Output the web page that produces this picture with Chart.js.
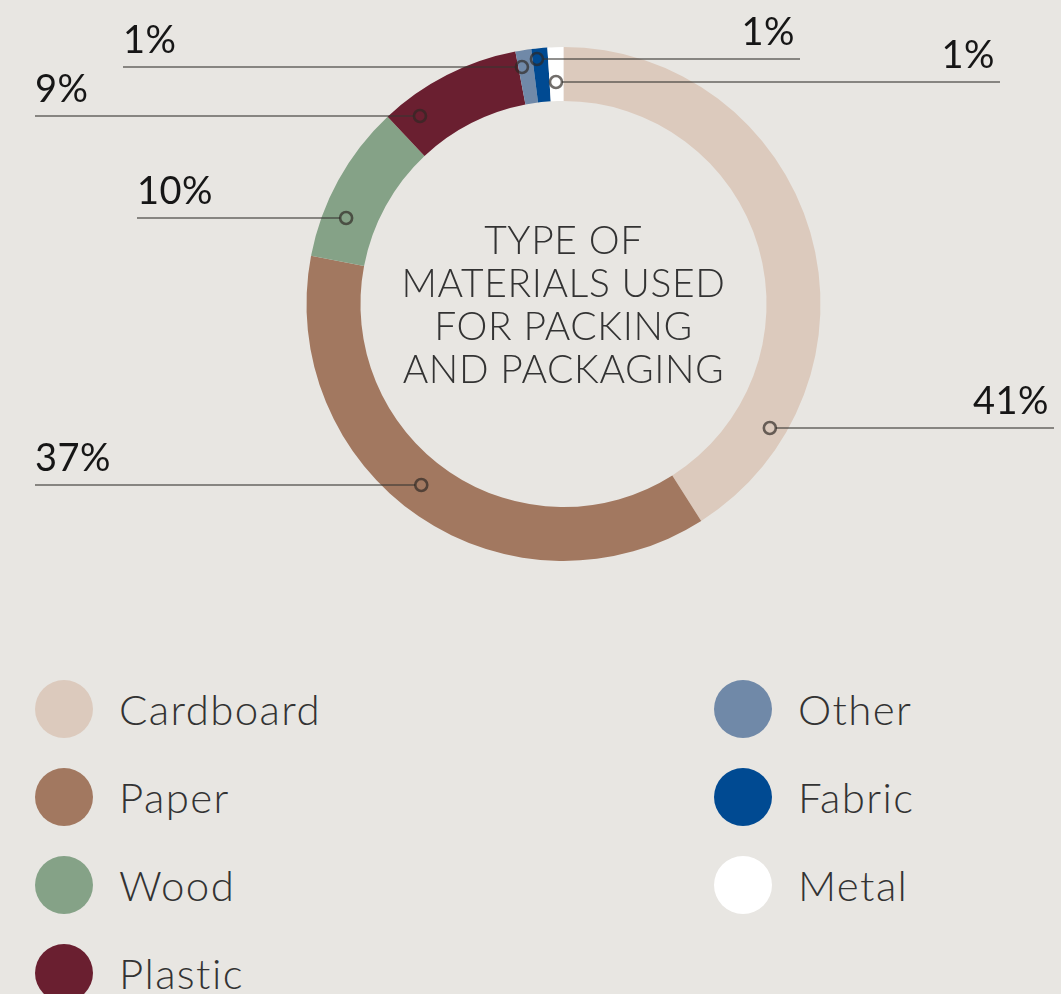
<!DOCTYPE html>
<html>
<head>
<meta charset="utf-8">
<title>Type of materials used for packing and packaging</title>
<script src="https://cdn.jsdelivr.net/npm/chart.js@4"></script>
<style>
  html, body { margin: 0; padding: 0; background: #e8e6e2; }
  .wrap { position: relative; width: 1061px; height: 994px; overflow: hidden; }
  .chart-box { position: absolute; left: 0; top: 0; width: 1061px; height: 620px; }
  #legend {
    position: absolute; left: 35px; top: 665px;
    display: grid;
    grid-template-columns: 679px auto;
    grid-template-rows: repeat(4, 88px);
    grid-auto-flow: column;
  }
  .item { display: flex; align-items: center; font: 300 42px Lato, sans-serif; letter-spacing: 1.4px; color: #333; }
  .dot { width: 58px; height: 58px; border-radius: 50%; margin-right: 26px; flex: none; }
</style>
</head>
<body>
<div class="wrap">
  <div class="chart-box"><canvas id="materialsChart" width="1061" height="620"></canvas></div>
  <div id="legend"></div>
</div>
<script>
(function() {
    'use strict';

    // Share of each packing material, percent
    const materials = ['Cardboard', 'Paper', 'Wood', 'Plastic', 'Other', 'Fabric', 'Metal'];
    const shares = [41, 37, 10, 9, 1, 1, 1];
    const sliceColors = ['#dccabd', '#a27860', '#85a287', '#6a1f30', '#7089a8', '#004a92', '#ffffff'];
    const titleLines = ['TYPE OF', 'MATERIALS USED', 'FOR PACKING', 'AND PACKAGING'];

    // Callout placement: how far along the slice, how deep into the ring, where the rule stops
    const calloutAlong = [0.82, 0.53, 0.30, 0.18, 0.24, 0.28, 0.46];
    const calloutDepth = [0.70, 0.50, 0.57, 0.62, 0.70, 0.80, 0.35];
    const calloutEndX = [1054, 35, 137, 35, 123, 800, 1000];

    // Leader rules, ring markers and percentage labels
    const callouts = {
        id: 'callouts',
        afterDatasetsDraw(chart) {
            const ctx = chart.ctx;
            const arcs = chart.getDatasetMeta(0).data;
            ctx.save();
            arcs.forEach((arc, i) => {
                const p = arc.getProps(['x', 'y', 'startAngle', 'endAngle', 'innerRadius', 'outerRadius']);
                const a = p.startAngle + calloutAlong[i] * (p.endAngle - p.startAngle);
                const r = p.innerRadius + calloutDepth[i] * (p.outerRadius - p.innerRadius);
                const mx = p.x + r * Math.cos(a);
                const my = Math.round(p.y + r * Math.sin(a));
                const endX = calloutEndX[i];
                const toRight = endX > mx;
                const ringR = 6;

                ctx.strokeStyle = 'rgba(55, 53, 50, 0.55)';
                ctx.lineWidth = 2;
                ctx.beginPath();
                ctx.moveTo(mx + (toRight ? ringR : -ringR), my);
                ctx.lineTo(endX, my);
                ctx.stroke();

                ctx.strokeStyle = 'rgba(45, 40, 36, 0.68)';
                ctx.lineWidth = 2.6;
                ctx.beginPath();
                ctx.arc(mx, my, ringR, 0, Math.PI * 2);
                ctx.stroke();

                ctx.fillStyle = '#161616';
                ctx.font = '400 38px Lato, sans-serif';
                ctx.letterSpacing = '0.5px';
                ctx.textBaseline = 'alphabetic';
                ctx.textAlign = toRight ? 'right' : 'left';
                ctx.fillText(shares[i] + '%', toRight ? endX - 5 : endX, my - 14);
            });

            // Title in the hole
            const c = arcs[0];
            ctx.fillStyle = '#333';
            ctx.font = '300 39px Lato, sans-serif';
            ctx.letterSpacing = '0.6px';
            ctx.textAlign = 'center';
            titleLines.forEach((line, i) => {
                ctx.fillText(line, c.x, c.y + (i - 1.5) * 43 + 14);
            });
            ctx.restore();
        }
    };

    function buildLegend() {
        const box = document.getElementById('legend');
        materials.forEach((name, i) => {
            const item = document.createElement('div');
            item.className = 'item';
            const dot = document.createElement('span');
            dot.className = 'dot';
            dot.style.background = sliceColors[i];
            item.appendChild(dot);
            item.appendChild(document.createTextNode(name));
            box.appendChild(item);
        });
    }

    function initChart() {
        const ctx = document.getElementById('materialsChart');
        new Chart(ctx, {
            type: 'doughnut',
            data: {
                labels: materials,
                datasets: [{
                    data: shares,
                    backgroundColor: sliceColors,
                    borderWidth: 0
                }]
            },
            options: {
                responsive: false,
                animation: false,
                devicePixelRatio: 1,
                cutout: '79%',
                layout: {
                    padding: { top: 47, bottom: 59, left: 306, right: 240 }
                },
                plugins: {
                    legend: { display: false },
                    tooltip: { enabled: false }
                }
            },
            plugins: [callouts]
        });
    }

    buildLegend();
    Promise.all([
        document.fonts.load('300 39px Lato'),
        document.fonts.load('400 38px Lato')
    ]).then(initChart, initChart);
})();
</script>
</body>
</html>
